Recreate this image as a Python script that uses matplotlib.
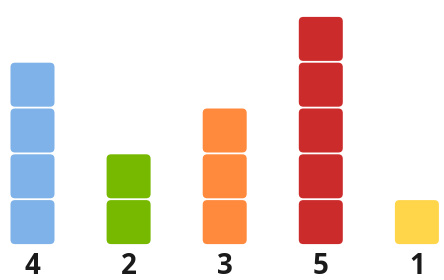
import matplotlib
matplotlib.use("Agg")
import matplotlib.pyplot as plt
from matplotlib.patches import FancyBboxPatch

values = [4, 2, 3, 5, 1]
labels = ["4", "2", "3", "5", "1"]
colors = ["#7FB2E8", "#76B900", "#FF8A3D", "#CC2B2B", "#FFD54A"]

W, H, DPI = 444, 280, 100
fig = plt.figure(figsize=(W / DPI, H / DPI), dpi=DPI)
ax = fig.add_axes([0, 0, 1, 1])
ax.set_axis_off()

px_x = 96.1   # pixels per x unit
px_y = 45.8   # pixels per y unit
x_left = -32.5 / px_x
ax.set_xlim(x_left, x_left + W / px_x)
y_bot = -35 / px_y
ax.set_ylim(y_bot, y_bot + H / px_y)

sq_w = 44 / px_x
sq_h = 44 / px_y
gap = (px_y - 44) / px_y
aspect = px_x / px_y
r = 4.5 / px_x

for i, (v, c) in enumerate(zip(values, colors)):
    for k in range(v):
        p = FancyBboxPatch((i - sq_w / 2, k + gap / 2), sq_w, sq_h,
                           boxstyle=f"round,pad=0,rounding_size={r}",
                           mutation_aspect=aspect,
                           facecolor=c, edgecolor="none")
        ax.add_patch(p)
    ax.text(i, (13 - 35) / px_y, labels[i], ha="center", va="center",
            fontsize=20, fontweight="bold", family=["Open Sans", "DejaVu Sans"],
            color="#1a1a1a")

fig.savefig("out.png", dpi=DPI)
